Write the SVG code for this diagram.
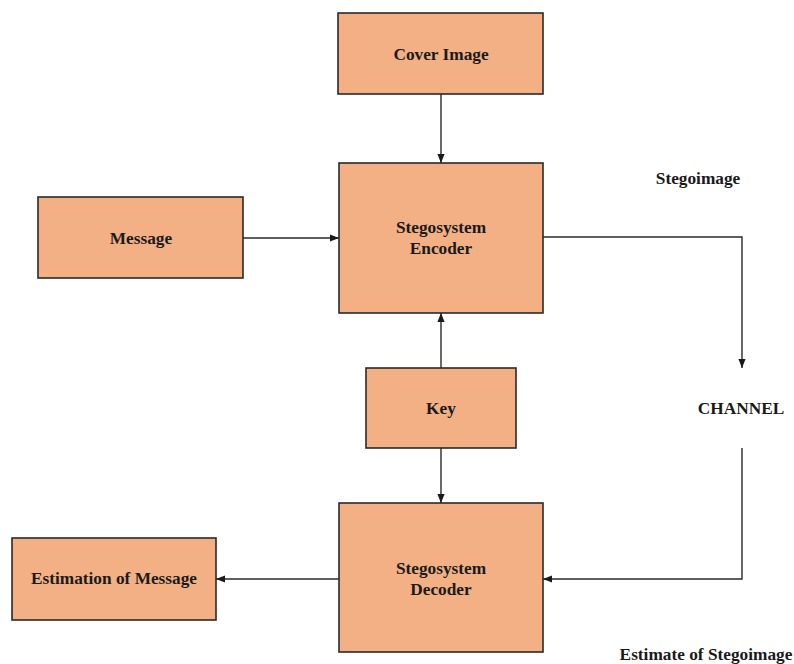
<svg xmlns="http://www.w3.org/2000/svg" width="794" height="664" viewBox="0 0 794 664">
<style>
.box{fill:#F2B084;stroke:#2a2a2a;stroke-width:1.6}
.t{font-family:"Liberation Serif","Times New Roman",serif;font-weight:bold;font-size:17.3px;fill:#1a1a1a;text-anchor:middle}
.c{fill:none;stroke:#2a2a2a;stroke-width:1.4}
</style>
<defs>
<marker id="ah" viewBox="0 0 10 10" refX="10" refY="5" markerWidth="9" markerHeight="9" markerUnits="userSpaceOnUse" orient="auto">
<path d="M0,1 L10,5 L0,9 z" fill="#1a1a1a"/>
</marker>
</defs>
<rect width="794" height="664" fill="#ffffff"/>
<g id="connectors">
<line class="c" x1="441" y1="94" x2="441" y2="163" marker-end="url(#ah)"/>
<line class="c" x1="243" y1="238" x2="339" y2="238" marker-end="url(#ah)"/>
<line class="c" x1="441" y1="368" x2="441" y2="313" marker-end="url(#ah)"/>
<line class="c" x1="441" y1="448" x2="441" y2="503" marker-end="url(#ah)"/>
<polyline class="c" points="543,237 742,237 742,368" marker-end="url(#ah)"/>
<polyline class="c" points="742,448 742,579 543,579" marker-end="url(#ah)"/>
<line class="c" x1="339" y1="579" x2="216" y2="579" marker-end="url(#ah)"/>
</g>
<g id="cover">
<rect class="box" x="338" y="13" width="205" height="81"/>
<text class="t" x="441" y="60">Cover Image</text>
</g>
<g id="message">
<rect class="box" x="38" y="197" width="205" height="81"/>
<text class="t" x="141" y="244">Message</text>
</g>
<g id="encoder">
<rect class="box" x="339" y="163" width="204" height="150"/>
<text class="t" x="441" y="233">Stegosystem</text>
<text class="t" x="441" y="254">Encoder</text>
</g>
<g id="key">
<rect class="box" x="366" y="368" width="150" height="80"/>
<text class="t" x="441" y="414">Key</text>
</g>
<g id="decoder">
<rect class="box" x="339" y="503" width="204" height="149"/>
<text class="t" x="441" y="574">Stegosystem</text>
<text class="t" x="441" y="595">Decoder</text>
</g>
<g id="estimation">
<rect class="box" x="12" y="538" width="204" height="82"/>
<text class="t" x="114" y="584">Estimation of Message</text>
</g>
<g id="labels">
<text class="t" x="698" y="184">Stegoimage</text>
<text class="t" x="741" y="414">CHANNEL</text>
<text class="t" x="706" y="660">Estimate of Stegoimage</text>
</g>
</svg>
